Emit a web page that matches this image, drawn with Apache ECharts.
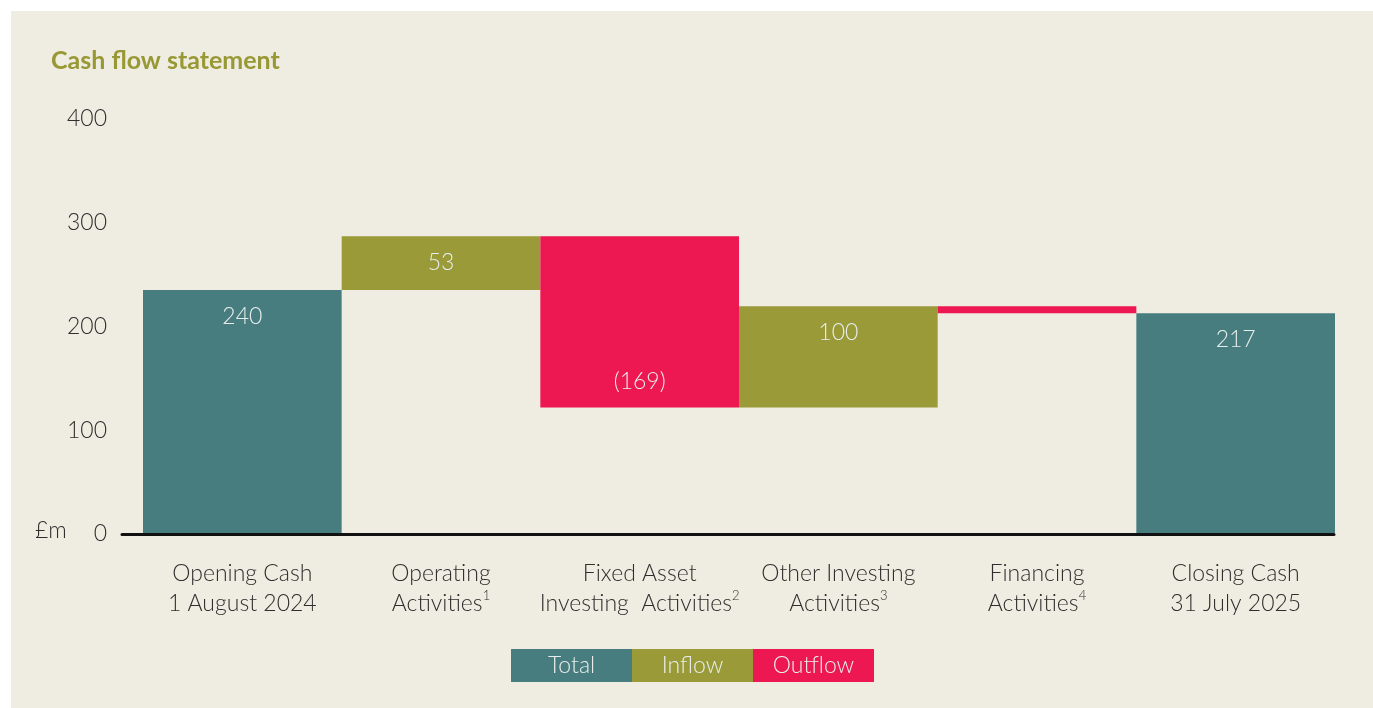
<!DOCTYPE html>
<html>
<head>
<meta charset="utf-8">
<script src="https://cdn.jsdelivr.net/npm/echarts@6/dist/echarts.min.js"></script>
<style>
  html, body { margin: 0; padding: 0; background: #ffffff; width: 1373px; height: 708px; overflow: hidden; }
  #panel { position: absolute; left: 11px; top: 11px; width: 1362px; height: 697px; background: #efece1; }
  #chart { position: absolute; left: 0; top: 0; width: 1373px; height: 708px; }
</style>
</head>
<body>
<div id="panel"></div>
<div id="chart"></div>
<script>
// ---- data ----
const categories = ['Opening Cash\n1 August 2024', 'Operating\nActivities', 'Fixed Asset\nInvesting  Activities', 'Other Investing\nActivities', 'Financing\nActivities', 'Closing Cash\n31 July 2025'];
const footnotes = ['', '1', '2', '3', '4', ''];
const openingCash = 240;
const movements = [53, -169, 100, -7];   // Operating, Fixed asset, Other investing, Financing
const closingCash = 217;
const hiddenLabels = ['Financing\nActivities'];
const yTicks = [0, 100, 200, 300, 400];
const legendNames = ['Total', 'Inflow', 'Outflow'];

// ---- build waterfall series from data ----
const base = [0];
const totals = [openingCash];
const inflow = ['-'];
const outflow = ['-'];
let running = openingCash;
movements.forEach((m, i) => {
  const cat = categories[i + 1];
  if (m >= 0) {
    base.push(running);
    inflow.push(m);
    outflow.push('-');
  } else {
    base.push(running + m);
    inflow.push('-');
    outflow.push(hiddenLabels.includes(cat) ? { value: -m, label: { show: false } } : -m);
  }
  totals.push('-');
  running += m;
});
base.push(0);
totals.push(closingCash);
inflow.push('-');
outflow.push('-');

const FONT = 'Lato, "Noto Sans", sans-serif';
const C_TOTAL = '#487d80', C_IN = '#9a9a38', C_OUT = '#ed1751';
const legendColors = [C_TOTAL, C_IN, C_OUT];
const labelColor = '#e6eeec';

const legendRich = {};
legendNames.forEach((n, i) => {
  legendRich['k' + i] = {
    fontFamily: FONT, fontWeight: 300, fontSize: 23, color: '#e9eeec',
    width: 121, height: 33, lineHeight: 33, align: 'center',
    backgroundColor: legendColors[i]
  };
});

const chart = echarts.init(document.getElementById('chart'), null, { renderer: 'canvas' });
chart.setOption({
  backgroundColor: 'transparent',
  animation: false,
  title: {
    text: 'Cash flow statement',
    left: 46, top: 43,
    textStyle: { fontFamily: FONT, fontWeight: 'bold', fontSize: 25, color: '#989834' }
  },
  legend: {
    left: 506, top: 649, padding: 0,
    itemWidth: 0, itemHeight: 0, itemGap: -5,
    selectedMode: false,
    icon: 'rect',
    formatter: name => '{k' + legendNames.indexOf(name) + '|' + name + '}',
    textStyle: { rich: legendRich },
    data: legendNames
  },
  graphic: [{
    type: 'text', left: 35, top: 519,
    style: { text: '£m', fontFamily: FONT, fontWeight: 300, fontSize: 23, fill: '#2e2e2e' }
  }],
  grid: [
    { left: 143, right: 38, top: 128, bottom: 175, containLabel: false },
    { left: 122, right: 39, top: 119, bottom: 174, containLabel: false }
  ],
  xAxis: [{
    type: 'category', gridIndex: 0, data: categories,
    axisLine: { show: false }, axisTick: { show: false },
    axisLabel: {
      margin: 26, interval: 0,
      fontFamily: FONT, fontWeight: 300, fontSize: 23, lineHeight: 30, color: '#2e2e2e',
      formatter: (v, i) => footnotes[i] ? v + '{sup|' + footnotes[i] + '}' : v,
      rich: { sup: { fontFamily: FONT, fontWeight: 300, fontSize: 13, lineHeight: 20, verticalAlign: 'top', color: '#2e2e2e' } }
    }
  }, {
    type: 'value', gridIndex: 1, min: 0, max: 1,
    axisLine: { show: true, lineStyle: { color: '#111', width: 3 } },
    axisTick: { show: false }, axisLabel: { show: false }, splitLine: { show: false }
  }],
  yAxis: [{
    type: 'value', gridIndex: 0, min: yTicks[0], max: yTicks[yTicks.length - 1], interval: 100, show: false
  }, {
    type: 'value', gridIndex: 1, min: yTicks[0], max: yTicks[yTicks.length - 1], interval: 100,
    axisLine: { show: false }, axisTick: { show: false }, splitLine: { show: false },
    axisLabel: { margin: 15, fontFamily: FONT, fontWeight: 300, fontSize: 23, color: '#2e2e2e' }
  }],
  series: [
    { name: 'base', type: 'bar', stack: 'w', data: base, itemStyle: { color: 'transparent' }, barCategoryGap: 0, silent: true },
    { name: 'Total', type: 'bar', stack: 'w', data: totals, itemStyle: { color: C_TOTAL }, barCategoryGap: 0,
      label: { show: true, position: 'insideTop', distance: 15, fontFamily: FONT, fontWeight: 300, fontSize: 23, color: labelColor } },
    { name: 'Inflow', type: 'bar', stack: 'w', data: inflow, itemStyle: { color: C_IN }, barCategoryGap: 0,
      label: { show: true, position: 'insideTop', distance: 15, fontFamily: FONT, fontWeight: 300, fontSize: 23, color: labelColor } },
    { name: 'Outflow', type: 'bar', stack: 'w', data: outflow, itemStyle: { color: C_OUT }, barCategoryGap: 0,
      label: { show: true, position: 'insideBottom', distance: 14, fontFamily: FONT, fontWeight: 300, fontSize: 23, color: labelColor,
        formatter: p => '(' + p.value + ')' } }
  ]
});
</script>
</body>
</html>
